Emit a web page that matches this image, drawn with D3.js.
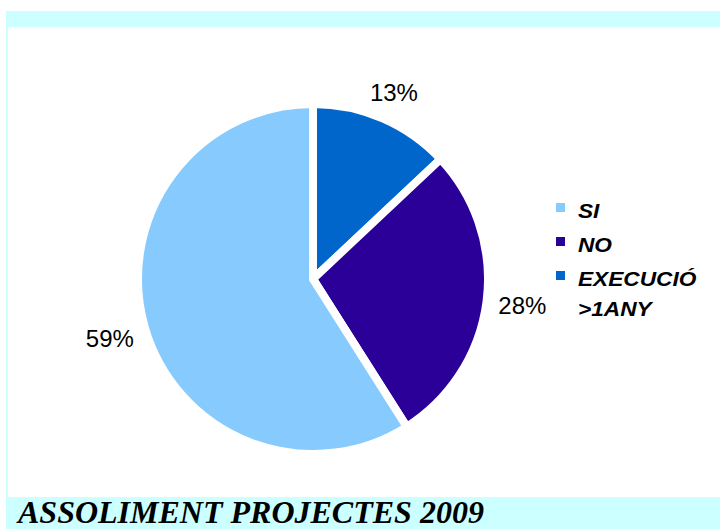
<!DOCTYPE html>
<html>
<head>
<meta charset="utf-8">
<script src="https://cdn.jsdelivr.net/npm/d3@7"></script>
<style>
  html, body { margin: 0; padding: 0; background: #fff; }
  svg { display: block; }
</style>
</head>
<body>
<div id="chart"></div>
<script>
// legend order
const categories = ['SI', 'NO', 'EXECUCIÓ >1ANY'];
const legendLines = [['SI'], ['NO'], ['EXECUCIÓ', '>1ANY']];
const values = [59, 28, 13];
const colors = ['#87CAFE', '#2A0098', '#0066CC'];
const pctLabels = ['59%', '28%', '13%'];
const title = 'ASSOLIMENT PROJECTES 2009';

const width = 720, height = 529;
const cx = 313, cy = 279, radius = 175, labelGap = 186;

const svg = d3.select('#chart').append('svg')
    .attr('width', width)
    .attr('height', height);

// frame bands
svg.append('rect').attr('x', 6).attr('y', 11).attr('width', width - 6).attr('height', 16).attr('fill', '#CCFFFF');
svg.append('rect').attr('x', 6).attr('y', 11).attr('width', 2).attr('height', height - 11).attr('fill', '#CCFFFF');
svg.append('rect').attr('x', 6).attr('y', 497).attr('width', width - 6).attr('height', height - 497).attr('fill', '#CCFFFF');

svg.append('text')
    .attr('x', 18)
    .attr('y', 523)
    .attr('font-family', '"Liberation Serif", "Times New Roman", serif')
    .attr('font-size', 32)
    .attr('font-weight', 'bold')
    .attr('font-style', 'italic')
    .attr('fill', '#000')
    .text(title);

// pie: first slice at 12 o'clock is EXECUCIÓ, then NO, then SI (clockwise)
const rows = categories.map((c, i) => ({ cat: c, value: values[i], color: colors[i], label: pctLabels[i] })).reverse();

const pie = d3.pie().sort(null).value(d => d.value);
const arc = d3.arc().innerRadius(0).outerRadius(radius);

const g = svg.append('g').attr('transform', `translate(${cx},${cy})`);
const arcs = pie(rows);

g.selectAll('path.slice')
    .data(arcs)
    .enter()
    .append('path')
    .attr('class', 'slice')
    .attr('d', arc)
    .attr('fill', d => d.data.color)
    .attr('stroke', '#fff')
    .attr('stroke-width', 8)
    .attr('stroke-linejoin', 'miter');

// labels: nearest edge of the label box sits at labelGap from the centre
g.selectAll('text.pct')
    .data(arcs)
    .enter()
    .append('text')
    .attr('class', 'pct')
    .attr('text-anchor', 'middle')
    .attr('dy', '0.36em')
    .attr('font-family', '"Liberation Sans", Arial, sans-serif')
    .attr('font-size', 24)
    .attr('fill', '#000')
    .text(d => d.data.label)
    .each(function (d) {
        const box = this.getBBox();
        const a = (d.startAngle + d.endAngle) / 2;
        const dx = Math.sin(a), dy = -Math.cos(a);
        const dist = labelGap + Math.abs(dx) * box.width / 2 + Math.abs(dy) * 9;
        d3.select(this).attr('transform', `translate(${dx * dist},${dy * dist})`);
    });

// legend
const legendY = d3.scalePoint().domain(categories).range([218, 286]);
const legend = svg.append('g');
categories.forEach((c, i) => {
    const y = legendY(c);
    legend.append('rect')
        .attr('x', 556).attr('y', y - 15)
        .attr('width', 9).attr('height', 9)
        .attr('fill', colors[i]);
    legendLines[i].forEach((line, j) => {
        legend.append('text')
            .attr('transform', `translate(578,${y + j * 30}) scale(1.08,1)`)
            .attr('font-family', '"Liberation Sans", Arial, sans-serif')
            .attr('font-size', 21)
            .attr('font-weight', 'bold')
            .attr('font-style', 'italic')
            .attr('fill', '#000')
            .text(line);
    });
});
</script>
</body>
</html>
